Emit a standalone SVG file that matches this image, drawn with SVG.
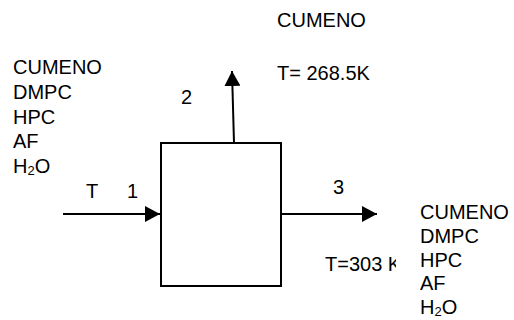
<svg xmlns="http://www.w3.org/2000/svg" width="514" height="320" viewBox="0 0 514 320">
<style>
text{font-family:"Liberation Sans",Arial,sans-serif;font-size:20px;fill:#000}
.ln{stroke:#000;stroke-width:2;fill:none}
.sub{font-size:13px}
</style>
<defs>
<marker id="ah" markerWidth="15" markerHeight="16" refX="15" refY="8" orient="auto" markerUnits="userSpaceOnUse">
<path d="M0,0 L15,8 L0,16 Z" fill="#000"/>
</marker>
</defs>
<rect width="514" height="320" fill="#fff"/>
<g id="connectors">
<line class="ln" x1="63" y1="214" x2="160" y2="214" marker-end="url(#ah)"/>
<line class="ln" x1="234" y1="143" x2="232" y2="71" marker-end="url(#ah)"/>
<line class="ln" x1="281" y1="214" x2="377" y2="214" marker-end="url(#ah)"/>
</g>
<g id="reactor">
<rect class="ln" x="161" y="143" width="120" height="143"/>
</g>
<g id="feed-label">
<text x="13" y="74">CUMENO</text>
<text x="13" y="99">DMPC</text>
<text x="13" y="124">HPC</text>
<text x="13" y="148">AF</text>
<text x="13" y="173">H<tspan class="sub" dy="2">2</tspan><tspan dy="-2">O</tspan></text>
<text x="86" y="198">T</text>
<text x="127" y="198">1</text>
</g>
<g id="top-label">
<text x="181" y="104">2</text>
<text x="277" y="27">CUMENO</text>
<text x="277" y="80">T= 268.5K</text>
</g>
<g id="outlet-label">
<text x="333" y="194">3</text>
<text x="325" y="271">T=303 K</text>
<rect x="396" y="200" width="118" height="120" fill="#fff"/>
<text x="420" y="219">CUMENO</text>
<text x="420" y="243">DMPC</text>
<text x="420" y="267">HPC</text>
<text x="420" y="290">AF</text>
<text x="420" y="314">H<tspan class="sub" dy="2">2</tspan><tspan dy="-2">O</tspan></text>
</g>
</svg>
